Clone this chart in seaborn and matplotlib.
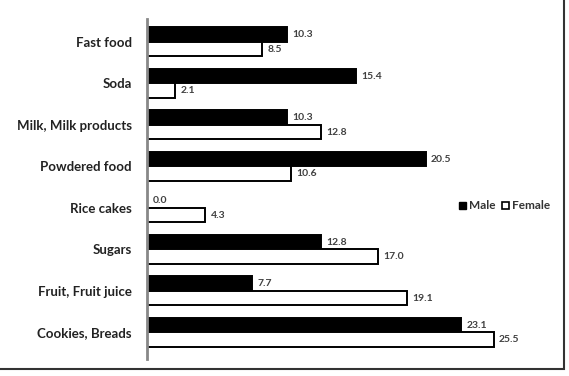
import pandas as pd
import matplotlib.pyplot as plt
import matplotlib.patches as mpatches
import seaborn as sns

foods = ['Fast food', 'Soda', 'Milk, Milk products', 'Powdered food',
         'Rice cakes', 'Sugars', 'Fruit, Fruit juice', 'Cookies, Breads']
male = [10.3, 15.4, 10.3, 20.5, 0.0, 12.8, 7.7, 23.1]
female = [8.5, 2.1, 12.8, 10.6, 4.3, 17.0, 19.1, 25.5]

df = pd.DataFrame({
    'Food': foods * 2,
    'Value': male + female,
    'Sex': ['Male'] * len(foods) + ['Female'] * len(foods),
})

sns.set_style('white')
plt.rcParams['font.family'] = ['Lato', 'DejaVu Sans']

fig = plt.figure(figsize=(5.69, 3.76), dpi=100)
ax = fig.add_axes([0.258, 0.061, 0.717, 0.883])

sns.barplot(data=df, y='Food', x='Value', hue='Sex', order=foods,
            hue_order=['Male', 'Female'],
            palette={'Male': 'black', 'Female': 'white'},
            edgecolor='black', linewidth=1.4, width=0.7, ax=ax,
            orient='h', legend=False)

for cont in ax.containers:
    ax.bar_label(cont, fmt='%.1f', padding=4, fontsize=7.5,
                 color='#404040', fontweight='bold')

ax.set_xlim(0, 30)
ax.set_xlabel('')
ax.set_ylabel('')
ax.set_xticks([])
ax.tick_params(axis='y', length=0, pad=11)
for lab in ax.get_yticklabels():
    lab.set_fontsize(9.5)
    lab.set_fontweight('bold')
    lab.set_color('#222222')
for s in ['top', 'right', 'bottom']:
    ax.spines[s].set_visible(False)
ax.spines['left'].set_color('#888888')
ax.spines['left'].set_linewidth(2)
ax.spines['left'].set_bounds(-0.55, 7.65)

handles = [mpatches.Patch(facecolor='black', edgecolor='black', label='Male'),
           mpatches.Patch(facecolor='white', edgecolor='black', linewidth=1.2, label='Female')]
ax.legend(handles=handles, loc='center left', bbox_to_anchor=(0.74, 0.443),
          ncol=2, frameon=False, handlelength=0.6, handleheight=0.6,
          handletextpad=0.2, columnspacing=0.6,
          prop={'size': 8.5, 'weight': 'bold'}, labelcolor='#333333')

frame = mpatches.Rectangle((-0.01, 0.0186), 1.001, 1.0, transform=fig.transFigure,
                           fill=False, edgecolor='#333333', linewidth=1.5, clip_on=False)
fig.patches.append(frame)

fig.savefig('out.png', dpi=100)
